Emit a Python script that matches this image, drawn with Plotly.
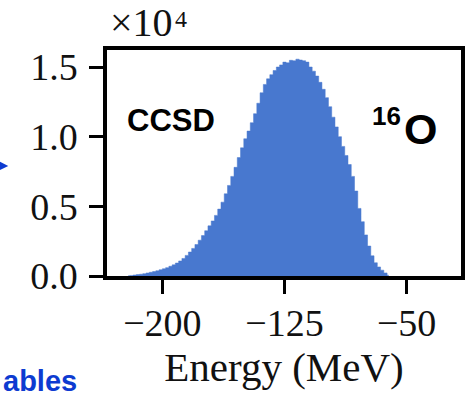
import plotly.graph_objects as go

# Histogram of sampled ground-state energies (2 MeV bins, centres listed)
bin_centers = [-221 + 2 * i for i in range(81)]
counts = [
    20, 40, 70, 100, 130, 170, 220, 270, 320, 380,
    450, 520, 600, 700, 800, 930, 1080, 1260, 1480, 1720,
    1980, 2260, 2570, 2900, 3250, 3600, 3950, 4350, 4800, 5300,
    5900, 6500, 7150, 7800, 8500, 9200, 9850, 10400, 11000, 11650,
    12400, 13150, 13750, 14150, 14450, 14750, 15000, 15150, 15350, 15300,
    15480, 15450, 15560, 15500, 15450, 15350, 15000, 14700, 14350, 13900,
    13400, 12800, 12150, 11400, 10700, 10000, 9300, 8650, 8000, 7150,
    6100, 4850, 3900, 2950, 2150, 1450, 950, 650, 420, 220,
    60,
]

x_ticks = [-200, -125, -50]
x_tick_labels = ["\u2212200", "\u2212125", "\u221250"]
y_ticks = [0, 5000, 10000, 15000]
y_tick_labels = ["0.0", "0.5", "1.0", "1.5"]

bar_color = "#4878CF"
serif = "Liberation Serif"
sans = "Liberation Sans"

# Step-filled histogram: one path, so no seams between neighbouring bins
fig = go.Figure(
    go.Scatter(
        x=bin_centers,
        y=counts,
        mode="lines",
        line=dict(shape="hvh", color=bar_color, width=0.5),
        fill="tozeroy",
        fillcolor=bar_color,
        hoverinfo="skip",
    )
)

fig.update_layout(
    width=472,
    height=397,
    margin=dict(l=107, r=7, t=50, b=121),
    paper_bgcolor="white",
    plot_bgcolor="white",
    showlegend=False,
    xaxis=dict(
        range=[-234.0, -16.6],
        tickvals=x_ticks,
        ticktext=x_tick_labels,
        ticks="outside",
        ticklen=14,
        tickwidth=3,
        tickcolor="black",
        ticklabelstandoff=-3,
        showline=True,
        linewidth=3.5,
        linecolor="black",
        mirror=True,
        showgrid=False,
        zeroline=False,
        tickfont=dict(family=serif, size=38, color="#111"),
        title=dict(text="Energy (MeV)", font=dict(family=serif, size=41, color="#111"), standoff=0),
    ),
    yaxis=dict(
        range=[0, 16220],
        tickvals=y_ticks,
        ticktext=y_tick_labels,
        ticks="outside",
        ticklen=14,
        tickwidth=3,
        tickcolor="black",
        ticklabelstandoff=4,
        showline=True,
        linewidth=3.5,
        linecolor="black",
        mirror=True,
        showgrid=False,
        zeroline=False,
        tickfont=dict(family=serif, size=38, color="#111"),
    ),
)

annotations = [
    # axis offset factor, base and exponent
    dict(text="\u00d710", x=0.003, y=1.012, xanchor="left", yanchor="bottom",
         font=dict(family=serif, size=40, color="#111")),
    dict(text="4", x=0.186, y=1.135, xanchor="left", yanchor="middle",
         font=dict(family=serif, size=24, color="#111")),
    dict(text="<b>CCSD</b>", x=0.1816, y=0.69, xanchor="center", yanchor="middle",
         font=dict(family=sans, size=31, color="black")),
    dict(text="<b>16</b>", x=0.79, y=0.71, xanchor="center", yanchor="middle",
         font=dict(family=sans, size=26, color="black")),
    dict(text="<b>O</b>", x=0.887, y=0.652, xanchor="center", yanchor="middle",
         font=dict(family=sans, size=43, color="black")),
    dict(text="<b>ables</b>", x=-0.2989, y=-0.545, xanchor="left", yanchor="bottom",
         font=dict(family=sans, size=29, color="#0D3BD1")),
]
for a in annotations:
    fig.add_annotation(xref="paper", yref="paper", showarrow=False, **a)

# Pointer arrow entering from the left margin
fig.add_annotation(
    xref="paper", yref="paper", x=-0.279, y=0.487, ax=-30, ay=0,
    showarrow=True, arrowhead=2, arrowsize=1, arrowwidth=2, arrowcolor="#0D3BD1", text="",
)

fig.write_html("out.html")
